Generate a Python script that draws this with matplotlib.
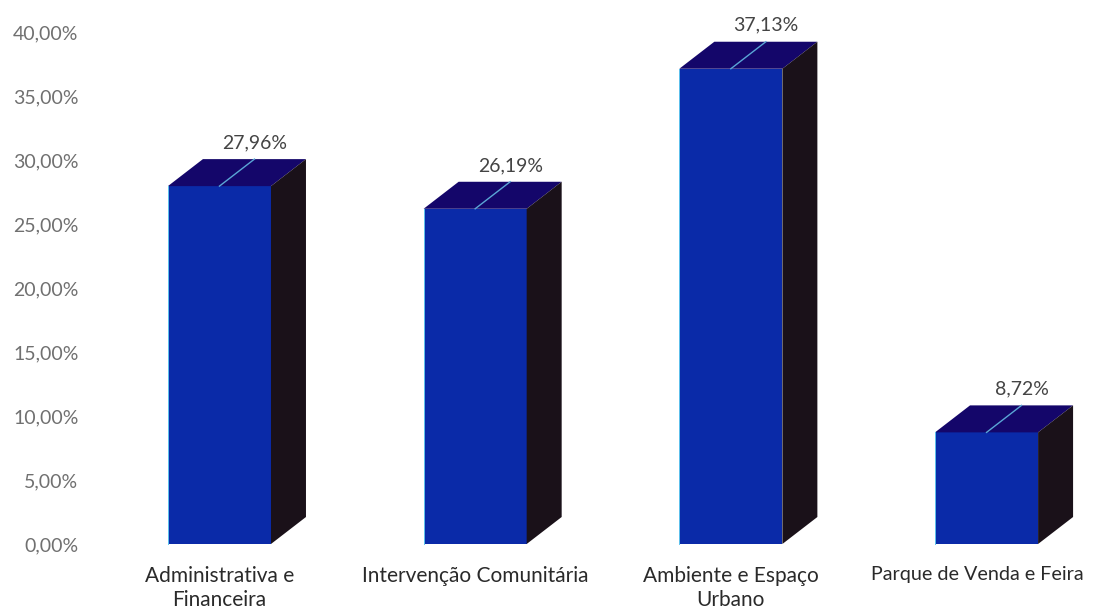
import numpy as np
import matplotlib.pyplot as plt
from matplotlib.patches import Polygon
from matplotlib.transforms import ScaledTranslation

plt.rcParams['font.family'] = ['Lato', 'DejaVu Sans']

categories = ['Administrativa e\nFinanceira', 'Intervenção Comunitária',
              'Ambiente e Espaço\nUrbano', 'Parque de Venda e Feira']
values = [27.96, 26.19, 37.13, 8.72]
value_labels = ['27,96%', '26,19%', '37,13%', '8,72%']
y_ticks = [0, 5, 10, 15, 20, 25, 30, 35, 40]
y_labels = ['0,00%', '5,00%', '10,00%', '15,00%', '20,00%', '25,00%', '30,00%', '35,00%', '40,00%']

W, H = 1098, 611
fig = plt.figure(figsize=(W / 100, H / 100), dpi=100)
# axes box in pixels: one category = 255.7 px, 12.8 px per percent
left, right, top, bottom = 91.6, 1098, 32, 544
ax = fig.add_axes([left / W, 1 - bottom / H, (right - left) / W, (bottom - top) / H])
ax.set_xlim(-0.5, -0.5 + (right - left) / 255.7)
ax.set_ylim(0, 40)

bar_w = 0.403
dx = 35 / 255.7
dy = 27 / 12.8

for i, v in enumerate(values):
    x0 = i - bar_w / 2
    x1 = i + bar_w / 2
    ax.add_patch(Polygon([(x0, 0), (x1, 0), (x1, v), (x0, v)], fc='#0a2aa8', ec='none', clip_on=False, zorder=2))
    ax.add_patch(Polygon([(x0, v), (x1, v), (x1 + dx, v + dy), (x0 + dx, v + dy)], fc='#14066a', ec='none', clip_on=False, zorder=2))
    ax.add_patch(Polygon([(x1, 0), (x1 + dx, dy), (x1 + dx, v + dy), (x1, v)], fc='#1a1119', ec='none', clip_on=False, zorder=2))
    ax.plot([x0, x0], [0, v], color='#5fc4ee', lw=0.7, clip_on=False, zorder=3)
    # leader line from the bar to its label
    ax.plot([i, i + dx], [v, v + dy], color='#5aa6d6', lw=1.0, clip_on=False, zorder=3)
    ax.text(i + dx, v + dy + 1.28, value_labels[i], ha='center', va='center', fontsize=14, color='#444444', clip_on=False)

ax.set_xticks(range(len(categories)))
ax.set_xticklabels(categories, fontsize=15, color='#2a2a2a', linespacing=1.3)
ax.set_yticks(y_ticks)
ax.set_yticklabels(y_labels, fontsize=14, color='#707070')
ax.tick_params(axis='both', length=0)
ax.tick_params(axis='x', pad=15.5)
ax.tick_params(axis='y', pad=9.5)
for s in ax.spines.values():
    s.set_visible(False)

# last label sits a little left of its bar in the original
lab = ax.get_xticklabels()[3]
lab.set_fontsize(14.2)
lab.set_transform(lab.get_transform() + ScaledTranslation(-9 / 100, 0, fig.dpi_scale_trans))

fig.savefig('out.png', dpi=100)
